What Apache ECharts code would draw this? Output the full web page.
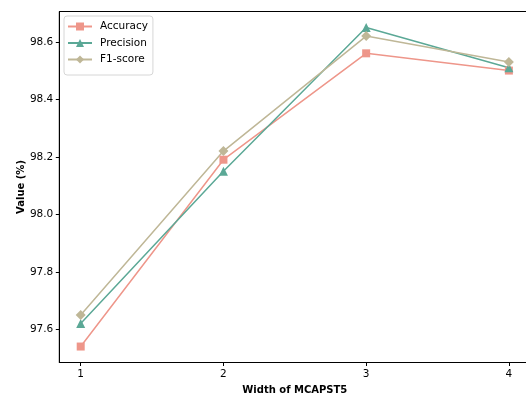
<!DOCTYPE html>
<html><head><meta charset="utf-8">
<script src="https://cdn.jsdelivr.net/npm/echarts@6/dist/echarts.min.js"></script>
<style>html,body{margin:0;padding:0;background:#fff}#c{width:526px;height:397px}</style>
</head><body><div id="c"></div>
<script>
const widths = [1, 2, 3, 4];
const accuracy = [97.54, 98.19, 98.56, 98.50];
const precision = [97.62, 98.15, 98.65, 98.51];
const f1score = [97.65, 98.22, 98.62, 98.53];
const yTicks = [97.6, 97.8, 98.0, 98.2, 98.4, 98.6];
const xTicks = [1, 2, 3, 4];

const font = 'DejaVu Sans';
const chart = echarts.init(document.getElementById('c'), null, {renderer: 'canvas'});
function mk(name, data, color, symbol, size) {
  return {
    name, type: 'line', data: widths.map((w, i) => [w, data[i]]),
    symbol, symbolSize: size,
    lineStyle: {color, width: 1.5},
    itemStyle: {color},
    emphasis: {disabled: true}
  };
}
chart.setOption({
  animation: false,
  grid: {left: 59.3, width: 471, top: 11.5, height: 351, outerBoundsMode: 'none', containLabel: false,
    show: true, borderColor: '#000', borderWidth: 1, backgroundColor: 'transparent'},
  legend: {
    orient: 'vertical', left: 64, top: 16,
    data: ['Accuracy', 'Precision', 'F1-score'],
    itemWidth: 24, itemHeight: 10, itemGap: 5.5,
    padding: [5, 5, 10, 3],
    borderColor: '#d6d6d6', borderWidth: 1, borderRadius: 3,
    textStyle: {fontFamily: font, fontSize: 10.5, color: '#000', padding: [0, 0, 0, 3]}
  },
  xAxis: {
    type: 'value', min: 0.85, max: 4.15,
    name: 'Width of MCAPST5', nameLocation: 'middle', nameGap: 23, nameMoveOverlap: false,
    nameTextStyle: {fontFamily: font, fontSize: 10, fontWeight: 'bold', color: '#000'},
    axisLine: {show: true, lineStyle: {color: '#000', width: 1}},
    axisTick: {show: true, customValues: xTicks, length: 3.5, lineStyle: {color: '#000'}},
    axisLabel: {customValues: xTicks, fontFamily: font, fontSize: 10.5, color: '#000', margin: 6},
    splitLine: {show: false}
  },
  yAxis: {
    type: 'value', min: 97.4845, max: 98.7055,
    name: 'Value (%)', nameLocation: 'middle', nameGap: 33, nameMoveOverlap: false,
    nameTextStyle: {fontFamily: font, fontSize: 10, fontWeight: 'bold', color: '#000'},
    axisLine: {show: true, lineStyle: {color: '#000', width: 1}},
    axisTick: {show: true, customValues: yTicks, length: 3.5, lineStyle: {color: '#000'}},
    axisLabel: {customValues: yTicks, fontFamily: font, fontSize: 10.5, color: '#000', margin: 6,
      formatter: v => v.toFixed(1)},
    splitLine: {show: false}
  },
  series: [
    mk('Accuracy', accuracy, '#EE968A', 'rect', 8),
    mk('Precision', precision, '#5BA896', 'triangle', 9),
    mk('F1-score', f1score, '#BFB797', 'diamond', 10)
  ]
});
</script></body></html>
